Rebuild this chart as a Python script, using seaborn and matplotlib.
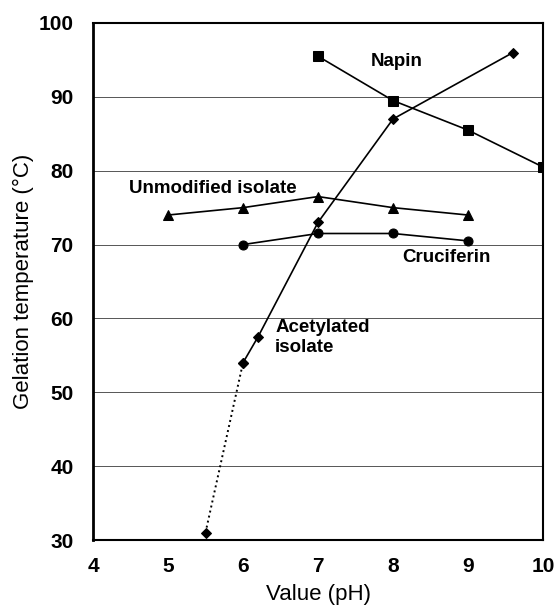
import matplotlib
matplotlib.use("Agg")
import matplotlib.pyplot as plt
import seaborn as sns
import pandas as pd

# Data
napin_ph = [7, 8, 9, 10]
napin_t = [95.5, 89.5, 85.5, 80.5]

acet_ph = [6, 6.2, 7, 8, 9.6]
acet_t = [54, 57.5, 73, 87, 96]
acet_dot_ph = [5.5, 6]
acet_dot_t = [31, 54]

unmod_ph = [5, 6, 7, 8, 9]
unmod_t = [74, 75, 76.5, 75, 74]

cruc_ph = [6, 7, 8, 9]
cruc_t = [70, 71.5, 71.5, 70.5]

x_ticks = [4, 5, 6, 7, 8, 9, 10]
y_ticks = [30, 40, 50, 60, 70, 80, 90, 100]

sns.set_style("white")
plt.rcParams['font.family'] = ['Liberation Sans', 'DejaVu Sans']
plt.rcParams.update({'text.color': 'black', 'axes.labelcolor': 'black',
                     'xtick.color': 'black', 'ytick.color': 'black'})

fig = plt.figure(figsize=(5.56, 6.14), dpi=100)
ax = fig.add_axes([93/556, 1 - 540/614, (543-93)/556, (540-23)/614])

for yv in y_ticks[1:-1]:
    ax.axhline(yv, color='#555555', lw=0.7, zorder=0)

kw = dict(color='black', lw=1.2, markersize=6.5, markeredgecolor='black', ax=ax)
sns.lineplot(x=acet_dot_ph, y=acet_dot_t, linestyle=':', marker='D', markersize=5, color='black', lw=1.4, ax=ax, markeredgecolor='black')
sns.lineplot(x=napin_ph, y=napin_t, marker='s', **kw)
sns.lineplot(x=acet_ph, y=acet_t, marker='D', color='black', lw=1.2, markersize=5, markeredgecolor='black', ax=ax)
sns.lineplot(x=unmod_ph, y=unmod_t, marker='^', **kw)
sns.lineplot(x=cruc_ph, y=cruc_t, marker='o', **kw)

ax.set_xlim(4, 10)
ax.set_ylim(30, 100)
ax.set_xticks(x_ticks)
ax.set_yticks(y_ticks)
ax.set_xticklabels([str(v) for v in x_ticks], fontweight='bold', fontsize=15, color='black')
ax.set_yticklabels([str(v) for v in y_ticks], fontweight='bold', fontsize=15, color='black')
ax.tick_params(axis='x', direction='inout', length=6, width=1, pad=9, colors='black')
ax.tick_params(axis='y', direction='out', length=4, width=1, pad=10, colors='black')
for s in ax.spines.values():
    s.set_color('black')
    s.set_linewidth(1.5)
ax.spines['left'].set_linewidth(2)

ax.set_xlabel('Value (pH)', fontsize=16, labelpad=6, color='black')
ax.set_ylabel('Gelation temperature (°C)', fontsize=16, labelpad=3, color='black')

ax.text(8.05, 94.8, 'Napin', fontsize=13.5, fontweight='bold', ha='center', va='center', color='black')
ax.text(5.6, 77.6, 'Unmodified isolate', fontsize=13.5, fontweight='bold', ha='center', va='center', color='black')
ax.text(8.71, 68.2, 'Cruciferin', fontsize=13.5, fontweight='bold', ha='center', va='center', color='black')
ax.text(6.43, 57.4, 'Acetylated\nisolate', fontsize=13.5, fontweight='bold', ha='left', va='center', linespacing=1.25, color='black')

fig.savefig('out.png', dpi=100)
